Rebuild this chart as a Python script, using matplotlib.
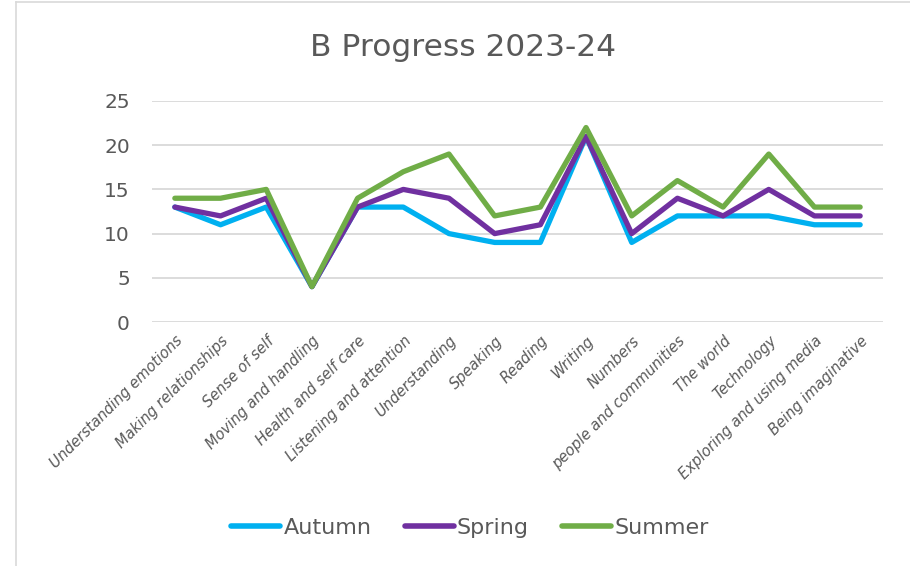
import matplotlib
matplotlib.use("Agg")
import matplotlib.pyplot as plt
from matplotlib.lines import Line2D

categories = ["Understanding emotions", "Making relationships", "Sense of self",
              "Moving and handling", "Health and self care", "Listening and attention",
              "Understanding", "Speaking", "Reading", "Writing", "Numbers",
              "people and communities", "The world", "Technology",
              "Exploring and using media", "Being imaginative"]
autumn = [13, 11, 13, 4, 13, 13, 10, 9, 9, 21, 9, 12, 12, 12, 11, 11]
spring = [13, 12, 14, 4, 13, 15, 14, 10, 11, 21, 10, 14, 12, 15, 12, 12]
summer = [14, 14, 15, 4, 14, 17, 19, 12, 13, 22, 12, 16, 13, 19, 13, 13]
series_names = ["Autumn", "Spring", "Summer"]
colors = ["#00B0F0", "#7030A0", "#70AD47"]
yticks = [0, 5, 10, 15, 20, 25]

plt.rcParams['font.family'] = ['DejaVu Sans']
txt = "#595959"

fig = plt.figure(figsize=(9.10, 5.66), dpi=100)
ax = fig.add_axes([152/910, 1 - 322/566, (883-152)/910, (322-101)/566])

x = list(range(len(categories)))
for vals, c, n in zip([autumn, spring, summer], colors, series_names):
    ax.plot(x, vals, color=c, lw=3.8, solid_capstyle='round', solid_joinstyle='round', label=n)

ax.set_xlim(-0.5, len(categories) - 0.5)
ax.set_ylim(0, 25)
ax.set_yticks(yticks)
ax.set_yticklabels([str(v) for v in yticks], fontsize=14.5, color=txt)
ax.set_xticks(x)
ax.set_xticklabels(categories, rotation=45, ha='right', rotation_mode='anchor',
                   fontsize=10.5, style='italic', color=txt)
ax.tick_params(axis='both', length=0)
ax.tick_params(axis='y', pad=16)
ax.tick_params(axis='x', pad=8)
ax.grid(axis='y', color='#D9D9D9', lw=1.3)
ax.set_axisbelow(True)
for s in ax.spines.values():
    s.set_visible(False)

fig.text(463/910, 1 - 47/566, "B Progress 2023-24", ha='center', va='center',
         fontsize=22.5, color=txt)

handles = [Line2D([0], [0], color=c, lw=4, solid_capstyle='round') for c in colors]
fig.legend(handles, series_names, loc='center', bbox_to_anchor=(470/910, 1 - 528/566),
           ncol=3, frameon=False, fontsize=16, handlelength=2.2, handletextpad=0.15,
           columnspacing=1.5, labelcolor=txt)

# outer chart frame
fig.add_artist(Line2D([16/910, 16/910], [0, 1 - 2/566], color='#D9D9D9', lw=1.2,
                      transform=fig.transFigure))
fig.add_artist(Line2D([16/910, 1], [1 - 2/566, 1 - 2/566], color='#D9D9D9', lw=1.2,
                      transform=fig.transFigure))

fig.savefig("out.png", dpi=100)
